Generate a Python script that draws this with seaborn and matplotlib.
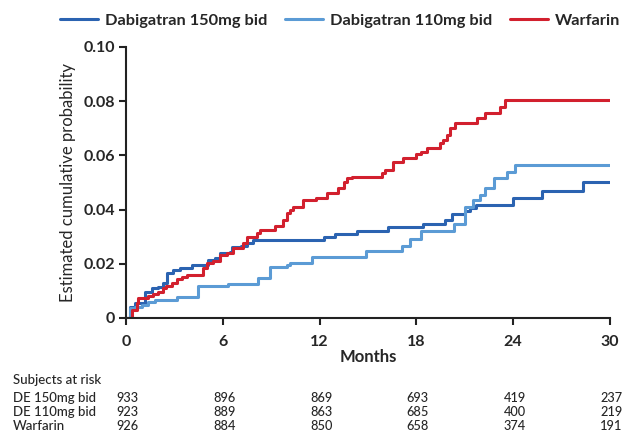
import matplotlib
matplotlib.use("Agg")
import matplotlib.pyplot as plt
import matplotlib.transforms as mtransforms
import pandas as pd
import seaborn as sns

# Kaplan-Meier style step curves (months, cumulative probability)
t_150 = [0, 0.25, 0.56, 1.18, 1.59, 2.0, 2.3, 2.52, 2.93, 3.35, 4.07, 5.1, 5.5,
         5.83, 6.45, 6.6, 7.1, 7.5, 7.9, 12.3, 12.96, 14.3, 16.26, 18.4, 19.8,
         20.2, 21.0, 21.3, 21.7, 24.0, 25.8, 28.35, 30]
p_150 = [0, 0.0042, 0.0054, 0.0097, 0.011, 0.0116, 0.0128, 0.0165, 0.0177,
         0.0183, 0.0196, 0.0214, 0.022, 0.0238, 0.0245, 0.0263, 0.0266, 0.0276,
         0.0287, 0.0298, 0.031, 0.0322, 0.0335, 0.0347, 0.0362, 0.0384, 0.0395,
         0.0405, 0.0416, 0.0442, 0.0469, 0.0501, 0.0501]

t_110 = [0, 0.25, 0.56, 0.97, 1.38, 1.8, 3.14, 4.45, 6.3, 8.2, 8.93, 9.96, 10.17,
         11.5, 14.9, 17.1, 17.6, 18.3, 20.3, 21.0, 21.5, 21.95, 22.26, 22.8,
         23.6, 24.1, 30]
p_110 = [0, 0.0036, 0.0042, 0.0048, 0.006, 0.0066, 0.0079, 0.0118, 0.0126,
         0.0148, 0.0187, 0.0196, 0.0204, 0.0226, 0.0248, 0.0266, 0.029, 0.0322,
         0.0345, 0.041, 0.0435, 0.0454, 0.0478, 0.0515, 0.054, 0.0565, 0.0565]

t_war = [0, 0.35, 0.66, 0.76, 1.38, 1.7, 2.0, 2.3, 2.5, 2.83, 3.14, 3.45, 3.76,
         4.8, 5.0, 5.4, 5.83, 6.24, 6.65, 7.27, 7.48, 8.1, 8.3, 9.24, 9.75, 9.96,
         10.17, 10.37, 10.99, 11.8, 12.44, 13.16, 13.5, 13.7, 14.0, 15.85, 16.06,
         16.57, 17.2, 18.0, 18.3, 18.64, 19.47, 19.67, 19.88, 20.09, 20.4, 21.74,
         22.26, 23.2, 23.5, 30]
p_war = [0, 0.003, 0.0054, 0.0073, 0.0081, 0.0089, 0.0097, 0.011, 0.0118, 0.0128,
         0.0143, 0.015, 0.0159, 0.0183, 0.0202, 0.0212, 0.0232, 0.0238, 0.0257,
         0.0276, 0.0298, 0.0312, 0.0325, 0.0339, 0.0362, 0.0386, 0.0399, 0.0408,
         0.0435, 0.0442, 0.0462, 0.0478, 0.0503, 0.0515, 0.0521, 0.0534, 0.0546,
         0.0577, 0.0589, 0.0605, 0.0614, 0.0626, 0.0645, 0.0657, 0.0675, 0.07,
         0.072, 0.0737, 0.0758, 0.078, 0.0804, 0.0804]

series_names = ["Dabigatran 150mg bid", "Dabigatran 110mg bid", "Warfarin"]
colors = {"Dabigatran 150mg bid": "#2b63b1",
          "Dabigatran 110mg bid": "#5b9bd5",
          "Warfarin": "#d2202e"}

risk_times = [0, 6, 12, 18, 24, 30]
risk_labels = ["DE 150mg bid", "DE 110mg bid", "Warfarin"]
risk_150 = [933, 896, 869, 693, 419, 237]
risk_110 = [923, 889, 863, 685, 400, 219]
risk_war = [926, 884, 850, 658, 374, 191]

frames = []
for name, t, p in zip(series_names, [t_150, t_110, t_war], [p_150, p_110, p_war]):
    frames.append(pd.DataFrame({"Months": t, "Prob": p, "Group": name}))
df = pd.concat(frames, ignore_index=True)

sns.set_style("white")
plt.rcParams['font.family'] = ['Lato', 'DejaVu Sans']

fig = plt.figure(figsize=(6.22, 4.33), dpi=100)
ax = fig.add_axes([0.2026, 0.2656, 0.7781, 0.6259])

sns.lineplot(data=df, x="Months", y="Prob", hue="Group", hue_order=series_names,
             palette=colors, estimator=None, drawstyle="steps-post",
             linewidth=2.2, ax=ax, legend=True)

ax.set_xlim(0, 30)
ax.set_ylim(0, 0.10)
ax.set_xticks(risk_times)
ax.set_xticklabels([str(v) for v in risk_times], fontsize=11.5, fontweight="bold")
ax.set_yticks([0, 0.02, 0.04, 0.06, 0.08, 0.10])
ax.set_yticklabels(["0", "0.02", "0.04", "0.06", "0.08", "0.10"],
                   fontsize=11.5, fontweight="bold")
ax.tick_params(axis="both", direction="out", length=5, width=1.5,
               color="#222222", left=True, bottom=True)
ax.tick_params(axis="x", pad=7)
ax.tick_params(axis="y", pad=3)
for side in ["top", "right"]:
    ax.spines[side].set_visible(False)
for side in ["left", "bottom"]:
    ax.spines[side].set_linewidth(1.5)
    ax.spines[side].set_color("#222222")

ax.set_xlabel("Months", fontsize=12, fontweight="bold", labelpad=0)
ax.set_ylabel("Estimated cumulative probability", fontsize=12, labelpad=5)

# Legend across the top (drawn at figure level)
handles, labels = ax.get_legend_handles_labels()
ax.get_legend().remove()
fig.legend(handles, labels, loc="center left", bbox_to_anchor=(60 / 622, 1 - 21 / 433),
           ncol=3, frameon=False, handlelength=2.3, columnspacing=1.1,
           handletextpad=0.42, borderpad=0, borderaxespad=0,
           prop={"size": 11.8, "weight": "bold"})

# Subjects at risk table
trans = mtransforms.blended_transform_factory(ax.transData, fig.transFigure)
fig.text(13 / 622, 1 - 380 / 433, "Subjects at risk", fontsize=9.5,
         fontweight="medium", va="center", ha="left")
for i, (lab, vals) in enumerate(zip(risk_labels, [risk_150, risk_110, risk_war])):
    yy = 1 - (398 + 14 * i) / 433
    fig.text(13 / 622, yy, lab, fontsize=9.5, fontweight="medium",
             va="center", ha="left")
    for tm, v in zip(risk_times, vals):
        ax.text(tm - 0.6, yy, str(v), transform=trans, fontsize=9.2,
                fontweight="medium", va="center", ha="left", clip_on=False)

fig.savefig("out.png", dpi=100)
